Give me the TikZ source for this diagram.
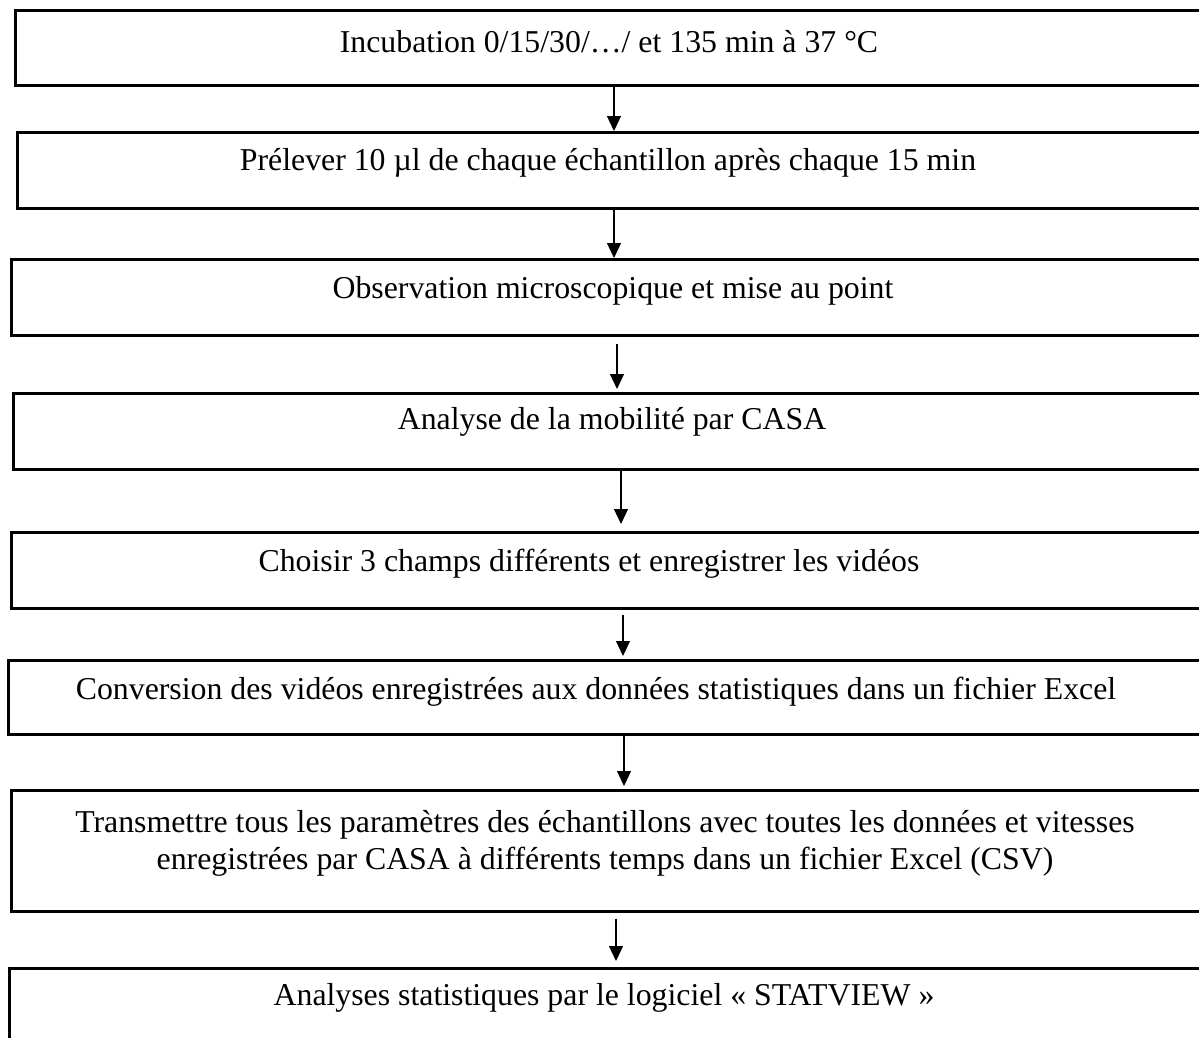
\documentclass[tikz,border=0pt]{standalone}
\usepackage{fontspec}
\setmainfont{Liberation Serif}
\usetikzlibrary{arrows.meta}
\tikzset{
  box/.style={draw=black, line width=2.6pt, anchor=north west, inner sep=0pt, minimum width=1230pt-#1},
  lbl/.style={font=\fontsize{31.8}{37}\selectfont, inner sep=0pt, align=center, text=black},
  arr/.style={draw=black, line width=1.2pt, -{Triangle[length=15pt,width=14pt]}}
}
\begin{document}
\begin{tikzpicture}[x=1pt,y=1pt]
\useasboundingbox (0,0) rectangle (1199,-1037);
\clip (0,0) rectangle (1199,-1037);
\fill[white] (0,0) rectangle (1199,-1037);
% boxes
\node[box=14pt, minimum height=75pt] (b1) at (14,-9) {};
\node[box=16pt, minimum height=76pt] (b2) at (16,-131) {};
\node[box=10pt, minimum height=76pt] (b3) at (10,-258) {};
\node[box=12pt, minimum height=76pt] (b4) at (12,-392) {};
\node[box=10pt, minimum height=76pt] (b5) at (10,-531) {};
\node[box=7pt,  minimum height=74pt] (b6) at (7,-659) {};
\node[box=10pt, minimum height=121pt] (b7) at (10,-789) {};
\node[box=8pt,  minimum height=130pt] (b8) at (8,-967) {};
% texts
\node[lbl] (t1) at (609,-42) {Incubation 0/15/30/…/ et 135 min à 37 °C};
\node[lbl] (t2) at (608,-163) {Prélever 10 µl de chaque échantillon après chaque 15 min};
\node[lbl] (t3) at (613,-291) {Observation microscopique et mise au point};
\node[lbl] (t4) at (612,-422) {Analyse de la mobilité par CASA};
\node[lbl] (t5) at (589,-564) {Choisir 3 champs différents et enregistrer les vidéos};
\node[lbl] (t6) at (596,-692) {Conversion des vidéos enregistrées aux données statistiques dans un fichier Excel};
\node[lbl] (t7) at (605,-843) {Transmettre tous les paramètres des échantillons avec toutes les données et vitesses\\enregistrées par CASA à différents temps dans un fichier Excel (CSV)};
\node[lbl] (t8) at (604,-998) {Analyses statistiques par le logiciel « STATVIEW »};
% arrows
\draw[arr] ([xshift=600pt]b1.south west) -- ([xshift=598pt]b2.north west);
\draw[arr] ([xshift=598pt]b2.south west) -- ([xshift=604pt]b3.north west);
\draw[arr] ([xshift=607pt,yshift=-7pt]b3.south west) -- ([xshift=605pt,yshift=3pt]b4.north west);
\draw[arr] ([xshift=609pt]b4.south west) -- ([xshift=611pt,yshift=7pt]b5.north west);
\draw[arr] ([xshift=613pt,yshift=-5pt]b5.south west) -- ([xshift=616pt,yshift=3pt]b6.north west);
\draw[arr] ([xshift=617pt]b6.south west) -- ([xshift=614pt,yshift=3pt]b7.north west);
\draw[arr] ([xshift=606pt,yshift=-6pt]b7.south west) -- ([xshift=608pt,yshift=6pt]b8.north west);
\end{tikzpicture}
\end{document}
